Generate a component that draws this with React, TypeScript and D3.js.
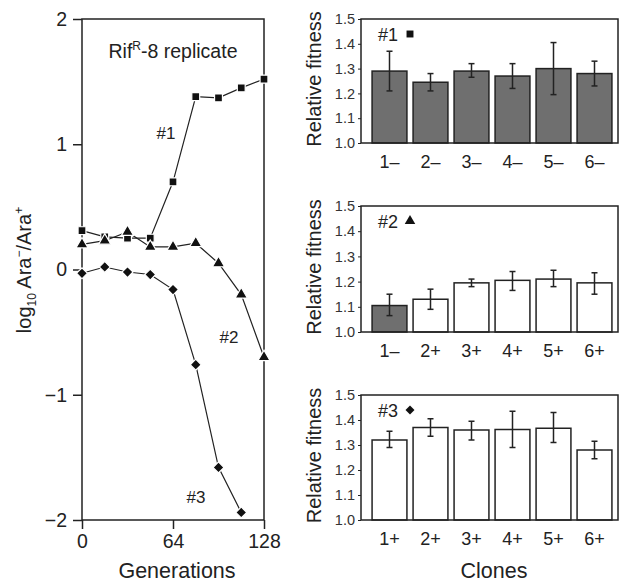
import React, { useEffect, useRef } from 'react';
import * as d3 from 'd3';

// left panel: log10 ratio over generations
const generations = [0, 16, 32, 48, 64, 80, 96, 112, 128];
const series1 = [0.31, 0.26, 0.25, 0.25, 0.70, 1.38, 1.37, 1.45, 1.52];
const series2 = [0.20, 0.23, 0.30, 0.18, 0.18, 0.21, 0.05, -0.20, -0.70];
const series3 = [-0.03, 0.02, -0.02, -0.04, -0.16, -0.76, -1.58, -1.94];
const xTicks = [0, 64, 128];
const yTicks = [2, 1, 0, -1, -2];

// right panels: relative fitness of clones
const clones1 = ['1–', '2–', '3–', '4–', '5–', '6–'];
const fit1 = [1.29, 1.245, 1.29, 1.27, 1.30, 1.28];
const lo1 = [1.21, 1.21, 1.265, 1.22, 1.195, 1.23];
const hi1 = [1.37, 1.28, 1.32, 1.32, 1.405, 1.33];
const dark1 = [true, true, true, true, true, true];

const clones2 = ['1–', '2+', '3+', '4+', '5+', '6+'];
const fit2 = [1.105, 1.13, 1.195, 1.205, 1.21, 1.195];
const lo2 = [1.065, 1.09, 1.18, 1.165, 1.18, 1.15];
const hi2 = [1.15, 1.17, 1.21, 1.24, 1.245, 1.235];
const dark2 = [true, false, false, false, false, false];

const clones3 = ['1+', '2+', '3+', '4+', '5+', '6+'];
const fit3 = [1.32, 1.37, 1.36, 1.362, 1.367, 1.28];
const lo3 = [1.29, 1.335, 1.32, 1.29, 1.31, 1.245];
const hi3 = [1.355, 1.405, 1.395, 1.435, 1.43, 1.315];
const dark3 = [false, false, false, false, false, false];

const fitTicks = [1.0, 1.1, 1.2, 1.3, 1.4, 1.5];

const FONT = 'Liberation Sans, Arial, sans-serif';

// diamond = square turned 45 degrees
const markerPath = (kind, size) =>
    d3.symbol(kind === 'triangle' ? d3.symbolTriangle : d3.symbolSquare, size)();
const markerRot = kind => (kind === 'diamond' ? ' rotate(45)' : '');

const App = () => {
    const svgRef = useRef(null);

    useEffect(() => {
        const svg = d3.select(svgRef.current);
        svg.selectAll('*').remove();
        svg.attr('font-family', FONT);

        // ---- left panel ----
        const x = d3.scaleLinear().domain([0, 128]).range([82, 264]);
        const y = d3.scaleLinear().domain([-2, 2]).range([520, 19]);

        svg.append('rect')
            .attr('x', 82).attr('y', 19)
            .attr('width', 182).attr('height', 501)
            .attr('fill', 'none').attr('stroke', '#222').attr('stroke-width', 1.5);

        const ya = svg.append('g')
            .attr('transform', 'translate(82,0)')
            .call(d3.axisLeft(y).tickValues(yTicks).tickSize(9).tickPadding(6)
                .tickFormat(d => d < 0 ? '−' + Math.abs(d) : String(d)));
        ya.select('.domain').remove();
        ya.selectAll('line').attr('stroke', '#222').attr('stroke-width', 1.5);
        ya.selectAll('text').attr('font-size', 19.5).attr('font-family', FONT).attr('fill', '#222');

        const xa = svg.append('g')
            .attr('transform', 'translate(0,520)')
            .call(d3.axisBottom(x).tickValues(xTicks).tickSize(9).tickPadding(5));
        xa.select('.domain').remove();
        xa.selectAll('line').attr('stroke', '#222').attr('stroke-width', 1.5);
        xa.selectAll('text').attr('font-size', 19.5).attr('font-family', FONT).attr('fill', '#222');

        svg.append('text')
            .attr('x', 177).attr('y', 578)
            .attr('text-anchor', 'middle').attr('font-size', 21.5).attr('fill', '#222')
            .text('Generations');

        const yl = svg.append('text')
            .attr('transform', 'translate(31,270) rotate(-90)')
            .attr('text-anchor', 'middle').attr('font-size', 20).attr('fill', '#222');
        yl.append('tspan').text('log');
        yl.append('tspan').attr('font-size', 12).attr('dy', 5).text('10');
        yl.append('tspan').attr('dy', -5).text(' Ara');
        yl.append('tspan').attr('font-size', 12).attr('dy', -8).text('−');
        yl.append('tspan').attr('dy', 8).text('/Ara');
        yl.append('tspan').attr('font-size', 12).attr('dy', -8).text('+');

        const tl = svg.append('text')
            .attr('x', 173).attr('y', 58)
            .attr('text-anchor', 'middle').attr('font-size', 19.5).attr('fill', '#222');
        tl.append('tspan').text('Rif');
        tl.append('tspan').attr('font-size', 12).attr('dy', -8).text('R');
        tl.append('tspan').attr('dy', 8).text('-8 replicate');

        const line = d3.line()
            .x((d, i) => x(generations[i]))
            .y(d => y(d));

        const allSeries = [
            { vals: series1, kind: 'square', size: 62 },
            { vals: series2, kind: 'triangle', size: 64 },
            { vals: series3, kind: 'diamond', size: 60 },
        ];
        allSeries.forEach(s => {
            svg.append('path')
                .datum(s.vals)
                .attr('fill', 'none').attr('stroke', '#222').attr('stroke-width', 1.2)
                .attr('d', line);
        });
        allSeries.forEach(s => {
            svg.append('g').selectAll('path')
                .data(s.vals)
                .join('path')
                .attr('transform', (d, i) => `translate(${x(generations[i])},${y(d)})${markerRot(s.kind)}`)
                .attr('d', markerPath(s.kind, s.size))
                .attr('fill', '#111').attr('stroke', '#fff').attr('stroke-width', 1.2);
        });

        svg.append('text').attr('x', 166).attr('y', 139).attr('text-anchor', 'middle')
            .attr('font-size', 17).attr('fill', '#222').text('#1');
        svg.append('text').attr('x', 229).attr('y', 343).attr('text-anchor', 'middle')
            .attr('font-size', 17).attr('fill', '#222').text('#2');
        svg.append('text').attr('x', 196).attr('y', 503).attr('text-anchor', 'middle')
            .attr('font-size', 17).attr('fill', '#222').text('#3');

        // ---- right panels ----
        const panels = [
            { top: 19, bottom: 143, cats: clones1, vals: fit1, lo: lo1, hi: hi1, dark: dark1, label: '#1', kind: 'square' },
            { top: 206, bottom: 332, cats: clones2, vals: fit2, lo: lo2, hi: hi2, dark: dark2, label: '#2', kind: 'triangle' },
            { top: 395, bottom: 520, cats: clones3, vals: fit3, lo: lo3, hi: hi3, dark: dark3, label: '#3', kind: 'diamond' },
        ];
        const left = 361;
        const right = 618;

        panels.forEach(p => {
            const g = svg.append('g');
            const bx = d3.scaleBand().domain(p.cats).range([369, 615]).paddingInner(0.15).paddingOuter(0.075);
            const by = d3.scaleLinear().domain([1.0, 1.5]).range([p.bottom, p.top]);

            g.selectAll('rect.bar')
                .data(p.vals)
                .join('rect')
                .attr('class', 'bar')
                .attr('x', (d, i) => bx(p.cats[i]))
                .attr('y', d => by(d))
                .attr('width', bx.bandwidth())
                .attr('height', d => by(1.0) - by(d))
                .attr('fill', (d, i) => p.dark[i] ? '#6f6f6f' : '#fff')
                .attr('stroke', '#222').attr('stroke-width', 1.5);

            g.selectAll('g.err')
                .data(p.vals)
                .join('g')
                .attr('class', 'err')
                .each(function (d, i) {
                    const cx = bx(p.cats[i]) + bx.bandwidth() / 2;
                    const e = d3.select(this);
                    e.append('line').attr('x1', cx).attr('x2', cx)
                        .attr('y1', by(p.lo[i])).attr('y2', by(p.hi[i]));
                    e.append('line').attr('x1', cx - 3).attr('x2', cx + 3)
                        .attr('y1', by(p.lo[i])).attr('y2', by(p.lo[i]));
                    e.append('line').attr('x1', cx - 3).attr('x2', cx + 3)
                        .attr('y1', by(p.hi[i])).attr('y2', by(p.hi[i]));
                    e.selectAll('line').attr('stroke', '#222').attr('stroke-width', 1.5);
                });

            g.append('rect')
                .attr('x', left).attr('y', p.top)
                .attr('width', right - left).attr('height', p.bottom - p.top)
                .attr('fill', 'none').attr('stroke', '#222').attr('stroke-width', 1.5);

            const ay = g.append('g')
                .attr('transform', `translate(${left},0)`)
                .call(d3.axisLeft(by).tickValues(fitTicks).tickSize(3).tickPadding(3).tickFormat(d3.format('.1f')));
            ay.select('.domain').remove();
            ay.selectAll('line').attr('stroke', '#222');
            ay.selectAll('text').attr('font-size', 14.5).attr('font-family', FONT).attr('fill', '#333');

            const ax = g.append('g')
                .attr('transform', `translate(0,${p.bottom})`)
                .call(d3.axisBottom(bx).tickSize(0).tickPadding(12));
            ax.select('.domain').remove();
            ax.selectAll('text').attr('font-size', 18).attr('font-family', FONT).attr('fill', '#222');

            g.append('text')
                .attr('transform', `translate(321,${(p.top + p.bottom) / 2 - 2}) rotate(-90)`)
                .attr('text-anchor', 'middle').attr('font-size', 20).attr('fill', '#222')
                .text('Relative fitness');

            g.append('text').attr('x', 378).attr('y', p.top + 22)
                .attr('font-size', 18).attr('fill', '#222').text(p.label);
            g.append('path')
                .attr('transform', `translate(410,${p.top + 15})${markerRot(p.kind)}`)
                .attr('d', markerPath(p.kind, p.kind === 'diamond' ? 40 : 48))
                .attr('fill', '#111');
        });

        svg.append('text')
            .attr('x', 494).attr('y', 578)
            .attr('text-anchor', 'middle').attr('font-size', 21.5).attr('fill', '#222')
            .text('Clones');
    }, []);

    return (
        <svg ref={svgRef} width={620} height={583}
            style={{ position: 'absolute', left: 0, top: 0, background: '#fff' }}></svg>
    );
};

export default App;
